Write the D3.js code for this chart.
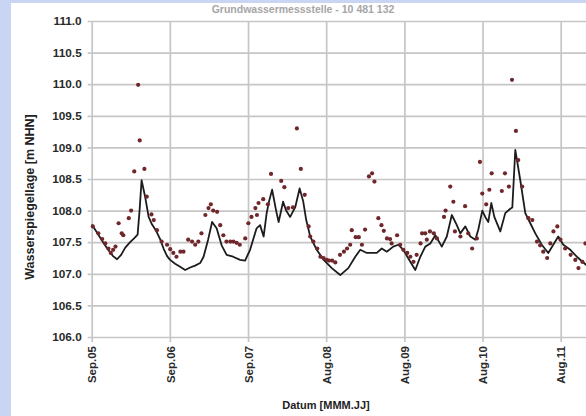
<!DOCTYPE html>
<html><head><meta charset="utf-8">
<script src="https://cdn.jsdelivr.net/npm/d3@7"></script>
<style>html,body{margin:0;padding:0;background:#fff;}svg{display:block;}</style>
</head><body>
<svg id="chart" width="586" height="416"></svg>
<script>
const chartTitle = "Grundwassermessstelle - 10 481 132";
const yLabel = "Wasserspiegellage [m NHN]";
const xLabel = "Datum [MMM.JJ]";
const yTicks = [106.0, 106.5, 107.0, 107.5, 108.0, 108.5, 109.0, 109.5, 110.0, 110.5, 111.0];
const xTickDates = ["2005-09-01","2006-09-01","2007-09-01","2008-08-31","2009-08-31","2010-08-31","2011-08-31"];

// line series - time in decimal years
const lineYears = [2005.667,2005.735,2005.811,2005.876,2005.939,2005.990,2006.042,2006.093,2006.157,2006.208,
2006.253,2006.278,2006.304,2006.349,2006.394,2006.438,2006.490,2006.541,2006.585,2006.630,
2006.669,2006.733,2006.797,2006.861,2006.925,2006.989,2007.053,2007.097,2007.155,2007.206,
2007.264,2007.328,2007.392,2007.475,2007.564,2007.628,2007.692,2007.775,2007.820,2007.865,
2007.903,2007.935,2007.974,2008.025,2008.057,2008.114,2008.153,2008.204,2008.268,2008.325,
2008.370,2008.409,2008.460,2008.543,2008.632,2008.735,2008.843,2008.946,2009.035,2009.099,
2009.183,2009.310,2009.374,2009.438,2009.521,2009.585,2009.649,2009.739,2009.803,2009.867,
2009.931,2009.995,2010.059,2010.142,2010.206,2010.270,2010.334,2010.379,2010.443,2010.507,
2010.571,2010.609,2010.660,2010.698,2010.737,2010.775,2010.814,2010.890,2010.954,2011.018,
2011.044,2011.082,2011.146,2011.210,2011.274,2011.338,2011.421,2011.504,2011.568,2011.632,
2011.696,2011.786,2011.869,2011.990,2012.070];
const lineValues = [107.78,107.65,107.50,107.38,107.28,107.23,107.30,107.41,107.50,107.56,
107.62,108.00,108.48,108.22,107.90,107.78,107.68,107.55,107.40,107.28,
107.22,107.16,107.11,107.06,107.10,107.13,107.17,107.27,107.54,107.82,
107.72,107.45,107.30,107.27,107.22,107.21,107.38,107.72,107.77,107.59,
107.95,108.15,108.33,108.00,107.82,108.14,108.00,107.90,108.05,108.35,
108.15,107.85,107.59,107.38,107.22,107.09,106.98,107.09,107.27,107.38,
107.33,107.33,107.40,107.35,107.43,107.46,107.38,107.19,107.06,107.27,
107.43,107.48,107.61,107.43,107.59,107.93,107.77,107.64,107.75,107.59,
107.54,107.70,108.00,107.90,107.82,108.12,107.90,107.67,107.96,108.03,
108.05,108.96,108.48,107.96,107.80,107.64,107.46,107.33,107.46,107.59,
107.46,107.38,107.27,107.14,107.10];

// point series (dots)
const pointYears = [2005.68,2005.75,2005.80,2005.84,2005.88,2005.91,2005.94,2005.97,2006.01,2006.05,
2006.07,2006.14,2006.17,2006.21,2006.26,2006.28,2006.34,2006.37,2006.43,2006.46,
2006.50,2006.56,2006.63,2006.67,2006.71,2006.75,2006.80,2006.84,2006.90,2006.95,
2006.99,2007.03,2007.07,2007.12,2007.16,2007.19,2007.22,2007.27,2007.31,2007.35,
2007.39,2007.44,2007.48,2007.52,2007.56,2007.63,2007.67,2007.71,2007.76,2007.78,
2007.80,2007.86,2007.92,2007.96,2008.09,2008.13,2008.18,2008.24,2008.29,2008.34,
2008.39,2008.44,2008.46,2008.50,2008.55,2008.59,2008.63,2008.67,2008.70,2008.74,
2008.78,2008.84,2008.89,2008.93,2008.97,2008.99,2009.04,2009.08,2009.12,2009.16,
2009.21,2009.25,2009.28,2009.33,2009.37,2009.40,2009.44,2009.48,2009.50,2009.57,
2009.61,2009.65,2009.70,2009.74,2009.78,2009.82,2009.87,2009.89,2009.93,2009.95,
2009.99,2010.04,2010.08,2010.17,2010.19,2010.25,2010.29,2010.31,2010.38,2010.44,
2010.48,2010.53,2010.59,2010.63,2010.66,2010.71,2010.75,2010.78,2010.91,2010.95,
2011.00,2011.04,2011.09,2011.12,2011.17,2011.25,2011.30,2011.36,2011.40,2011.44,
2011.49,2011.53,2011.57,2011.62,2011.66,2011.72,2011.79,2011.85,2011.89,2011.94,2011.98];
const pointValues = [107.75,107.64,107.55,107.48,107.40,107.33,107.38,107.43,107.80,107.64,
107.61,107.88,108.00,108.62,109.99,109.11,108.66,108.22,107.94,107.85,
107.69,107.51,107.46,107.39,107.33,107.27,107.35,107.35,107.54,107.51,
107.46,107.51,107.64,107.93,108.04,108.10,108.00,107.98,107.77,107.61,
107.51,107.51,107.51,107.49,107.46,107.56,107.80,107.90,108.04,107.93,
108.12,108.18,108.10,108.58,108.47,108.37,108.04,108.05,109.30,108.66,
108.25,107.75,107.59,107.51,107.40,107.27,107.25,107.22,107.21,107.21,
107.18,107.30,107.35,107.40,107.46,107.69,107.58,107.58,107.46,107.70,
108.54,108.59,108.46,107.88,107.77,107.68,107.56,107.55,107.48,107.61,
107.46,107.38,107.33,107.27,107.19,107.30,107.48,107.64,107.64,107.54,
107.67,107.64,107.56,107.90,108.00,108.38,108.14,107.67,107.59,108.07,
107.64,107.40,107.56,108.77,108.27,108.10,108.33,108.59,108.31,108.59,
108.38,110.07,109.26,108.80,108.38,107.88,107.85,107.51,107.45,107.35,
107.25,107.48,107.67,107.75,107.54,107.40,107.30,107.22,107.09,107.19,107.48];

function yearToDate(t){
  const yr = Math.floor(t);
  const a = new Date(yr,0,1), b = new Date(yr+1,0,1);
  return new Date(+a + (t - yr) * (b - a));
}
const parseDate = d3.timeParse("%Y-%m-%d");

const svg = d3.select("#chart");
const W = 586, H = 416;
const plotLeft = 91.7, plotTop = 21, plotBottom = 337;

// frame
svg.append("rect").attr("width", W).attr("height", H).attr("fill", "#c8d6f4");
svg.append("rect").attr("x", 11).attr("y", 3).attr("width", W - 11).attr("height", H - 3).attr("fill", "#ffffff");

const x = d3.scaleTime()
  .domain([parseDate("2005-09-01"), parseDate("2011-08-31")])
  .range([plotLeft, 560.7]);
const y = d3.scaleLinear().domain([106, 111]).range([plotBottom, plotTop]);
const plotRight = x(parseDate("2012-06-01"));

const font = "'Liberation Sans', Arial, sans-serif";

// y axis with grid
const gy = svg.append("g").attr("transform", `translate(${plotLeft},0)`)
  .call(d3.axisLeft(y).tickValues(yTicks).tickFormat(d3.format(".1f"))
    .tickSize(-(plotRight - plotLeft)).tickPadding(10));
gy.select(".domain").remove();
gy.selectAll(".tick line").attr("x1", -4).attr("stroke", "#c6c6c6").attr("stroke-width", 1.7);
gy.selectAll(".tick text").attr("font-family", font).attr("font-size", "11.8px")
  .attr("font-weight", "bold").attr("fill", "#2a2a2a");

// x axis with grid
const gx = svg.append("g").attr("transform", `translate(0,${plotBottom})`)
  .call(d3.axisBottom(x).tickValues(xTickDates.map(parseDate)).tickFormat(d3.timeFormat("%b.%y"))
    .tickSize(-(plotBottom - plotTop)));
gx.select(".domain").remove();
gx.selectAll(".tick line").attr("y1", 5).attr("stroke", "#c6c6c6").attr("stroke-width", 1.7);
gx.selectAll(".tick text")
  .attr("font-family", font).attr("font-size", "11.5px").attr("font-weight", "bold").attr("fill", "#2a2a2a")
  .attr("text-anchor", "end").attr("transform", "rotate(-90)")
  .attr("x", -9).attr("y", 0).attr("dy", "0.36em");

// line
const lineData = lineYears.map((t, i) => ({d: yearToDate(t), v: lineValues[i]}));
svg.append("path").datum(lineData)
  .attr("fill", "none").attr("stroke", "#1c1c1c").attr("stroke-width", 1.8)
  .attr("stroke-linejoin", "round")
  .attr("d", d3.line().x(p => x(p.d)).y(p => y(p.v)));

// points
const pointData = pointYears.map((t, i) => ({d: yearToDate(t), v: pointValues[i]}));
svg.append("g").selectAll("circle").data(pointData).join("circle")
  .attr("cx", p => x(p.d)).attr("cy", p => y(p.v)).attr("r", 2.1)
  .attr("fill", "#70272b");

// axis titles
svg.append("text").attr("transform", "translate(34,197) rotate(-90)")
  .attr("text-anchor", "middle").attr("font-family", font).attr("font-size", "12.5px")
  .attr("font-weight", "bold").attr("fill", "#222").text(yLabel);
svg.append("text").attr("x", 326).attr("y", 409)
  .attr("text-anchor", "middle").attr("font-family", font).attr("font-size", "11px")
  .attr("font-weight", "bold").attr("fill", "#222").text(xLabel);

// chart title (faint, at the top edge)
svg.append("text").attr("x", 303).attr("y", 12.5)
  .attr("text-anchor", "middle").attr("font-family", font).attr("font-size", "10.5px")
  .attr("font-weight", "bold").attr("fill", "#a6a6a6").text(chartTitle);
</script>
</body></html>
